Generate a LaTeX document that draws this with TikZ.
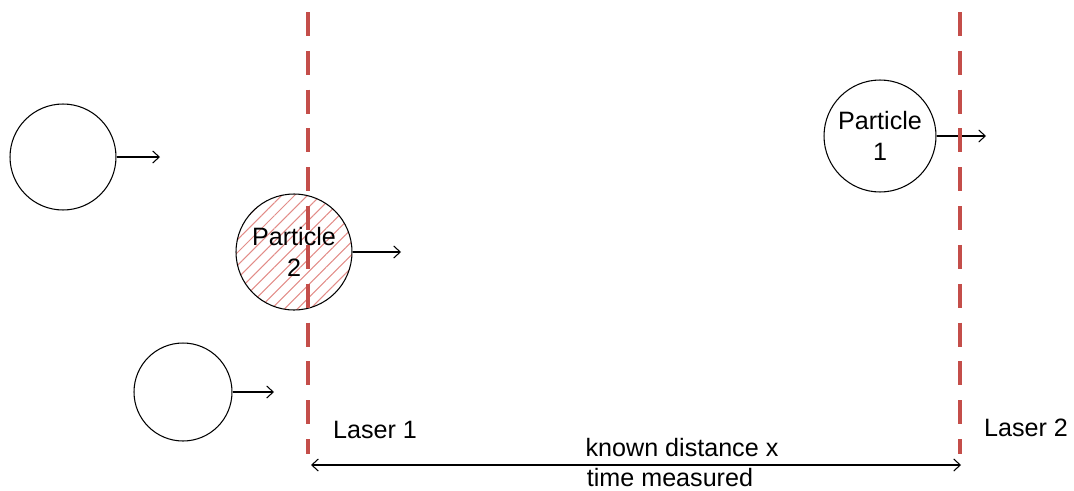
\documentclass[tikz,border=0pt]{standalone}
\usepackage{fontspec}
\setmainfont{Liberation Sans}
\usetikzlibrary{arrows.meta,patterns.meta}

\definecolor{laserred}{RGB}{196,78,74}
\definecolor{hatchred}{RGB}{226,140,136}

\begin{document}
\begin{tikzpicture}[
  x=0.02cm, y=-0.02cm,
  font=\fontsize{14.3}{18}\selectfont,
  particle/.style={circle, draw, line width=0.6pt, inner sep=0pt, align=center},
  motion/.style={line width=0.6pt, -{Straight Barb[length=1.3mm,width=2.4mm]}},
  laser/.style={draw=laserred, line width=2.2pt, dash pattern=on 13.6pt off 8.5pt},
  lbl/.style={inner sep=0pt}
]
\useasboundingbox (0,0) rectangle (1074,490);

% particles
\node[particle, minimum size=2.12cm] (pA) at (63,157) {};
\node[particle, minimum size=2.32cm,
  pattern={Lines[angle=45,distance=5.2pt,line width=0.6pt]}, pattern color=hatchred] (pB) at (294,252) {};
\node[lbl, align=center] (pBtext) at (294,252) {Particle\\2};
\node[particle, minimum size=1.96cm] (pC) at (183,392) {};
\node[particle, minimum size=2.24cm] (pD) at (880,136) {Particle\\1};

% motion arrows
\coordinate (aA) at (160,157);
\coordinate (aB) at (401,252);
\coordinate (aC) at (274,392);
\coordinate (aD) at (986,136);
\draw[motion] (pA.east) -- (aA);
\draw[motion] (pB.east) -- (aB);
\draw[motion] (pC.east) -- (aC);
\draw[motion] (pD.east) -- (aD);

% lasers
\coordinate (l1top) at (308,12);
\coordinate (l1bot) at (308,454);
\coordinate (l2top) at (960,12);
\coordinate (l2bot) at (960,454);
\draw[laser] (l1top) -- (l1bot);
\draw[laser] (l2top) -- (l2bot);
\node[lbl] (laserA) at (375,430) {Laser 1};
\node[lbl] (laserB) at (1026,428) {Laser 2};

% distance
\coordinate (dL) at (311,465);
\coordinate (dR) at (961,465);
\draw[line width=0.6pt, {Straight Barb[length=1.3mm,width=2.4mm]}-{Straight Barb[length=1.3mm,width=2.4mm]}] (dL) -- (dR);
\node[lbl] (dist) at (682,448) {known distance x};
\node[lbl] (time) at (670,478) {time measured};
\end{tikzpicture}
\end{document}
